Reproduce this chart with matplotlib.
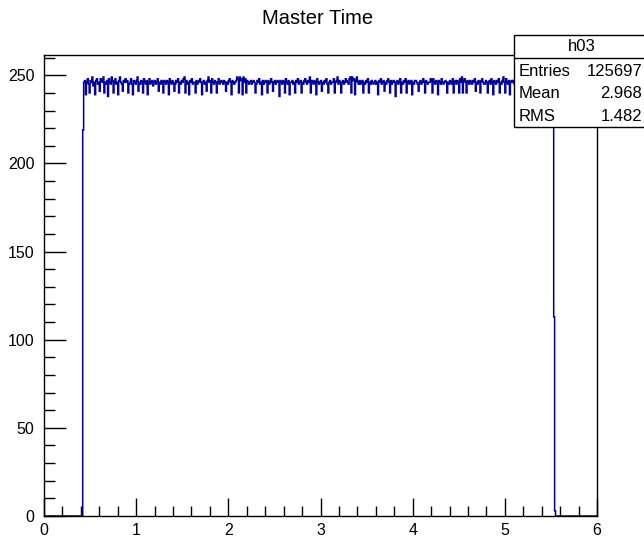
#!/usr/bin/env python
# ROOT style histogram "Master Time" (h03)
import numpy as np
import matplotlib
matplotlib.use('Agg')
import matplotlib.pyplot as plt
from matplotlib.patches import Rectangle
from matplotlib.ticker import MultipleLocator

plt.rcParams['font.family'] = ['Liberation Sans', 'DejaVu Sans']

# 600 bins of width 0.01 between 0 and 6
nbins = 600
xmin, xmax = 0.0, 6.0
first_bin = 42          # bin [0.42, 0.43]
first_value = 219
tail_values = [113, 3]  # bins [5.53, 5.54] and [5.54, 5.55]

# plateau, bins [0.43, 5.53]
plateau = [
    246, 247, 239, 246, 248, 245, 240, 247, 246, 249, 244, 246, 239, 247, 248,
    245, 246, 241, 248, 247, 246, 249, 240, 246, 245, 247, 238, 248, 246, 245,
    249, 247, 240, 246, 248, 245, 246, 239, 247, 249, 246, 245, 241, 247, 246,
    248, 246, 247, 240, 245, 246, 248, 245, 239, 247, 246, 245, 247, 249, 241,
    246, 245, 247, 246, 240, 248, 246, 245, 247, 239, 246, 248, 245, 246, 247,
    244, 246, 247, 245, 246, 248, 241, 246, 245, 247, 246, 240, 247, 246, 245,
    247, 246, 239, 248, 246, 245, 247, 246, 241, 245, 247, 246, 248, 240, 246,
    245, 247, 246, 248, 249, 240, 247, 245, 246, 239, 247, 246, 248, 245, 246,
    246, 240, 247, 245, 246, 247, 248, 246, 239, 246, 247, 245, 246, 241, 247,
    249, 246, 247, 240, 248, 246, 245, 247, 246, 240, 246, 248, 245, 246, 247,
    246, 245, 247, 246, 241, 246, 245, 247, 248, 246, 239, 247, 246, 245, 246,
    247, 249, 248, 240, 249, 247, 248, 239, 249, 246, 248, 240, 247, 246, 245,
    246, 247, 245, 246, 247, 246, 240, 245, 247, 246, 248, 245, 246, 239, 247,
    245, 246, 247, 246, 240, 247, 245, 246, 248, 246, 241, 246, 247, 245, 246,
    247, 246, 238, 247, 246, 245, 247, 246, 240, 248, 246, 245, 247, 239, 246,
    246, 247, 245, 246, 240, 247, 246, 248, 245, 246, 247, 240, 246, 245, 247,
    248, 246, 245, 247, 246, 249, 240, 247, 246, 245, 247, 246, 239, 248, 246,
    245, 246, 247, 241, 246, 245, 247, 246, 248, 245, 240, 246, 247, 245, 246,
    246, 248, 240, 246, 247, 249, 245, 247, 246, 240, 246, 247, 245, 246, 248,
    247, 246, 245, 248, 249, 240, 249, 247, 248, 239, 247, 249, 246, 245, 247,
    245, 246, 247, 240, 246, 245, 247, 246, 248, 240, 246, 245, 247, 246, 245,
    246, 247, 245, 246, 239, 247, 246, 248, 245, 246, 247, 241, 246, 245, 247,
    248, 246, 240, 247, 245, 246, 247, 246, 238, 246, 247, 245, 246, 248, 240,
    246, 245, 247, 246, 248, 240, 246, 247, 245, 246, 247, 239, 246, 245, 247,
    247, 246, 245, 241, 246, 247, 245, 246, 248, 246, 240, 247, 246, 245, 246,
    246, 248, 247, 240, 248, 246, 245, 247, 246, 239, 247, 246, 245, 248, 246,
    245, 246, 247, 246, 240, 246, 245, 247, 246, 245, 248, 240, 246, 247, 245,
    247, 246, 240, 248, 246, 249, 240, 247, 248, 246, 240, 247, 246, 245, 247,
    246, 245, 247, 246, 248, 241, 246, 245, 247, 246, 240, 247, 248, 246, 245,
    245, 247, 246, 240, 246, 247, 245, 248, 246, 239, 247, 246, 245, 247, 246,
    248, 240, 246, 245, 247, 249, 246, 240, 248, 246, 245, 247, 239, 246, 247,
    246, 247, 245, 246, 240, 247, 246, 245, 248, 246, 240, 247, 246, 245, 247,
    247, 246, 240, 247, 245, 246, 248, 239, 246, 247, 245, 246, 240, 247, 246,
    245, 247, 246, 248, 240, 246, 247, 245, 246, 241, 247, 246, 245, 247, 246,
]

title = 'Master Time'
stats_name = 'h03'
stats_labels = ['Entries', 'Mean', 'RMS']
stats_values = ['125697', '2.968', '1.482']

counts = np.zeros(nbins)
counts[first_bin] = first_value
counts[first_bin + 1:first_bin + 1 + len(plateau)] = plateau
start = first_bin + 1 + len(plateau)
counts[start:start + len(tail_values)] = tail_values
edges = np.linspace(xmin, xmax, nbins + 1)

W, H = 644, 537
fig = plt.figure(figsize=(W / 100, H / 100), dpi=100)
ax = fig.add_axes([44 / W, 1 - 516 / H, (597 - 44) / W, (516 - 55) / H])

ax.stairs(counts, edges, color='#000099', linewidth=1.1, baseline=0)

ax.set_xlim(xmin, xmax)
ax.set_ylim(0, 261.5)
ax.xaxis.set_major_locator(MultipleLocator(1))
ax.xaxis.set_minor_locator(MultipleLocator(0.2))
ax.yaxis.set_major_locator(MultipleLocator(50))
ax.yaxis.set_minor_locator(MultipleLocator(10))
ax.tick_params(which='both', direction='in', top=False, right=False,
               labelsize=11.5, colors='black', width=1)
ax.tick_params(axis='x', which='major', length=13, pad=5)
ax.tick_params(axis='x', which='minor', length=7)
ax.tick_params(axis='y', which='major', length=16, pad=7)
ax.tick_params(axis='y', which='minor', length=8)
for s in ax.spines.values():
    s.set_linewidth(1)
    s.set_color('black')

fig.text(318 / W, 1 - 18 / H, title, ha='center', va='center', fontsize=14.5)

# stats box
bx0, by0, bx1, by1 = 514, 35, 650, 127
fig.patches.append(Rectangle((bx0 / W, 1 - by1 / H), (bx1 - bx0) / W, (by1 - by0) / H,
                             transform=fig.transFigure, facecolor='white',
                             edgecolor='black', linewidth=1, zorder=5))
fig.add_artist(plt.Line2D([bx0 / W, 1], [1 - 58 / H, 1 - 58 / H],
                          transform=fig.transFigure, color='black', linewidth=1, zorder=6))
fig.text(582 / W, 1 - 46.5 / H, stats_name, ha='center', va='center', fontsize=12, zorder=7)
rows_y = [71, 94, 117]
for lab, val, yy in zip(stats_labels, stats_values, rows_y):
    fig.text(519 / W, 1 - yy / H, lab, ha='left', va='center', fontsize=12, zorder=7)
    fig.text(642 / W, 1 - yy / H, val, ha='right', va='center', fontsize=12, zorder=7)

fig.savefig('out.png', dpi=100)
